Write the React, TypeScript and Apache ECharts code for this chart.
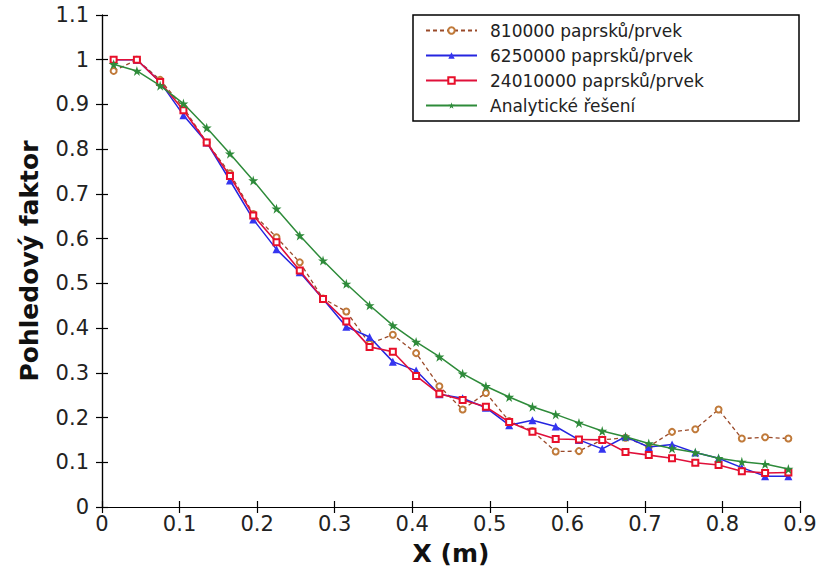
import React, { useEffect, useRef } from "react";
import * as echarts from "echarts";

const xValues = [
  0.015, 0.045, 0.075, 0.105, 0.135, 0.165, 0.195, 0.225, 0.255, 0.285,
  0.315, 0.345, 0.375, 0.405, 0.435, 0.465, 0.495, 0.525, 0.555, 0.585,
  0.615, 0.645, 0.675, 0.705, 0.735, 0.765, 0.795, 0.825, 0.855, 0.885,
];

const series810k = [
  0.975, 1.0, 0.955, 0.893, 0.815, 0.746, 0.655, 0.603, 0.547, 0.466,
  0.437, 0.365, 0.385, 0.344, 0.27, 0.218, 0.255, 0.192, 0.17, 0.124,
  0.125, 0.15, 0.155, 0.135, 0.168, 0.174, 0.218, 0.153, 0.156, 0.153,
];

const series6250k = [
  1.0, 1.0, 0.95, 0.876, 0.815, 0.73, 0.643, 0.576, 0.525, 0.465,
  0.403, 0.38, 0.325, 0.305, 0.252, 0.243, 0.222, 0.183, 0.194, 0.18,
  0.15, 0.13, 0.157, 0.134, 0.14, 0.122, 0.109, 0.088, 0.069, 0.069,
];

const series24010k = [
  1.0, 1.0, 0.95, 0.887, 0.815, 0.74, 0.652, 0.592, 0.529, 0.465,
  0.415, 0.358, 0.347, 0.293, 0.253, 0.239, 0.224, 0.19, 0.168, 0.152,
  0.151, 0.15, 0.123, 0.116, 0.109, 0.099, 0.094, 0.08, 0.076, 0.077,
];

const analytic = [
  0.99, 0.975, 0.942, 0.902, 0.848, 0.79, 0.73, 0.667, 0.607, 0.551,
  0.499, 0.451, 0.406, 0.369, 0.336, 0.298, 0.27, 0.246, 0.224, 0.207,
  0.188, 0.17, 0.157, 0.142, 0.131, 0.122, 0.109, 0.101, 0.096, 0.085,
];

const seriesNames = [
  "810000 paprsků/prvek",
  "6250000 paprsků/prvek",
  "24010000 paprsků/prvek",
  "Analytické řešení",
];

const xTitle = "X (m)";
const yTitle = "Pohledový faktor";

const STAR =
  "path://M50,0 L61,35 L98,35 L68,57 L79,91 L50,70 L21,91 L32,57 L2,35 L39,35 Z";

const FONT = "DejaVu Sans";

function pairs(ys: number[]) {
  return xValues.map((x, i) => [x, ys[i]]);
}

export default function App() {
  const ref = useRef<HTMLDivElement>(null);
  useEffect(() => {
    if (!ref.current) return;
    const chart = echarts.init(ref.current, undefined, { renderer: "svg" });
    const axisCommon = {
      axisLine: { show: true, lineStyle: { color: "#000", width: 1.2 } },
      axisTick: { show: true, inside: true, length: 6, lineStyle: { color: "#000", width: 1.2 } },
      splitLine: { show: false },
    };
    chart.setOption({
      animation: false,
      backgroundColor: "#fff",
      grid: { left: 102, right: 22, top: 15, bottom: 69, containLabel: false },
      xAxis: [
        {
          type: "value",
          min: 0,
          max: 0.9,
          interval: 0.1,
          position: "bottom",
          ...axisCommon,
          axisLabel: { fontFamily: FONT, fontSize: 21, color: "#222", margin: 6 },
          name: xTitle,
          nameLocation: "middle",
          nameGap: 34,
          nameTextStyle: { fontFamily: FONT, fontSize: 25, fontWeight: "bold", color: "#111" },
        },
        {
          type: "value",
          min: 0,
          max: 0.9,
          interval: 0.1,
          position: "top",
          ...axisCommon,
          axisLabel: { show: false },
        },
      ],
      yAxis: [
        {
          type: "value",
          min: 0,
          max: 1.1,
          interval: 0.1,
          position: "left",
          ...axisCommon,
          axisLabel: { fontFamily: FONT, fontSize: 21, color: "#222", margin: 13 },
          name: yTitle,
          nameLocation: "middle",
          nameGap: 60,
          nameTextStyle: { fontFamily: FONT, fontSize: 25, fontWeight: "bold", color: "#111" },
        },
        {
          type: "value",
          min: 0,
          max: 1.1,
          interval: 0.1,
          position: "right",
          ...axisCommon,
          axisLabel: { show: false },
        },
      ],
      graphic: [
        {
          type: "rect",
          shape: { x: 413, y: 15, width: 386, height: 106 },
          style: { fill: "#fff", stroke: "#000", lineWidth: 1.5 },
          z: 3,
        },
      ],
      legend: {
        orient: "vertical",
        left: 413,
        top: 15,
        padding: [7, 10, 9, 12],
        itemWidth: 51,
        itemHeight: 8,
        itemGap: 8,
        z: 5,
        data: seriesNames,
        textStyle: {
          fontFamily: FONT,
          fontSize: 17,
          color: "#222",
          lineHeight: 14,
          padding: [0, 0, 0, 8],
        },
      },
      series: [
        {
          name: seriesNames[0],
          type: "line",
          data: pairs(series810k),
          symbol: "emptyCircle",
          symbolSize: 6,
          lineStyle: { color: "#9a4a2a", width: 1.3, type: [4, 3] },
          itemStyle: { color: "#c07a3a", borderWidth: 1.4 },
          z: 2,
        },
        {
          name: seriesNames[1],
          type: "line",
          data: pairs(series6250k),
          symbol: "triangle",
          symbolSize: 8,
          lineStyle: { color: "#2525e0", width: 1.5 },
          itemStyle: { color: "#3535f0" },
          z: 3,
        },
        {
          name: seriesNames[2],
          type: "line",
          data: pairs(series24010k),
          symbol: "emptyRect",
          symbolSize: 6,
          lineStyle: { color: "#e0103a", width: 1.6 },
          itemStyle: { color: "#e8102a", borderWidth: 1.8 },
          z: 4,
        },
        {
          name: seriesNames[3],
          type: "line",
          data: pairs(analytic),
          symbol: STAR,
          symbolSize: 10,
          lineStyle: { color: "#2e8b3a", width: 1.5 },
          itemStyle: { color: "#2e8b3a" },
          z: 5,
        },
      ],
    });
    return () => chart.dispose();
  }, []);
  return (
    <div
      ref={ref}
      style={{ position: "fixed", left: 0, top: 0, width: 822, height: 576, background: "#fff" }}
    />
  );
}
